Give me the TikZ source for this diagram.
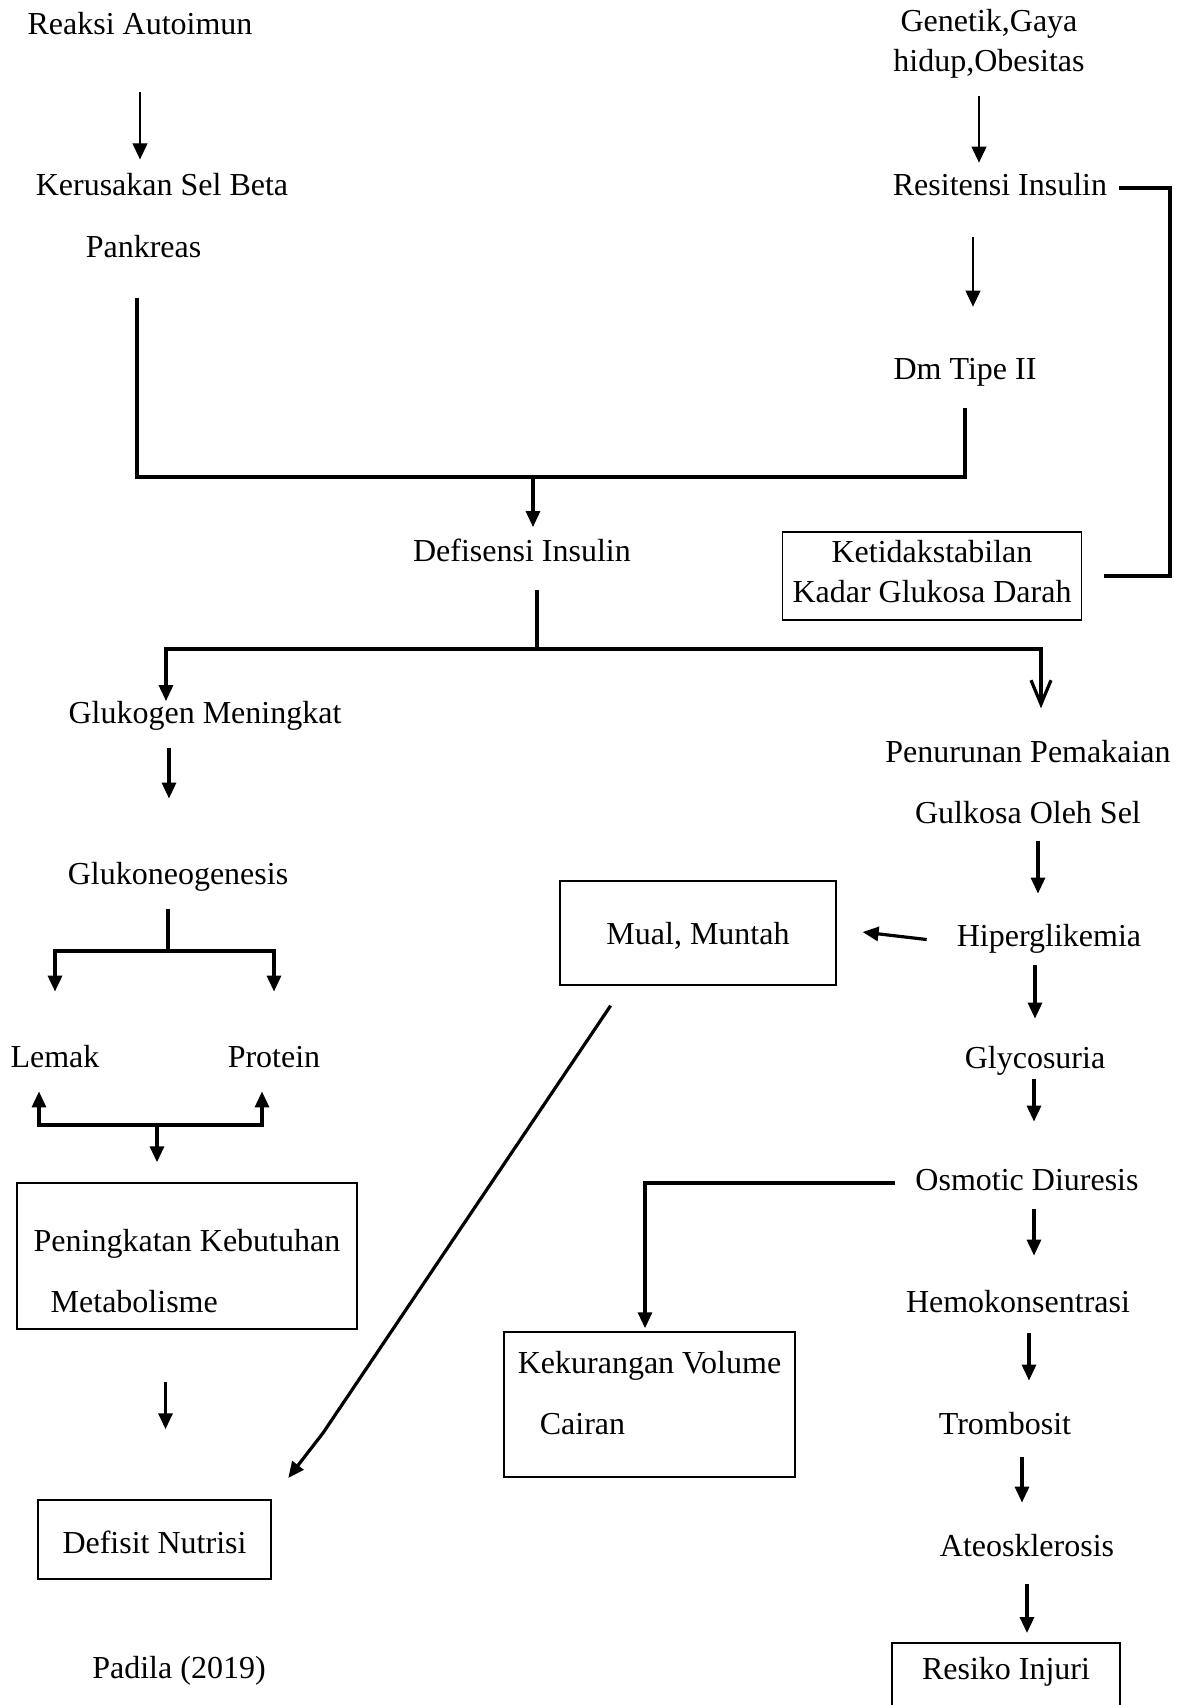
\documentclass[tikz,border=0pt]{standalone}
\usepackage{fontspec}
\setmainfont{Liberation Serif}
\usetikzlibrary{arrows.meta}

\begin{document}
\begin{tikzpicture}[x=0.5pt,y=-0.5pt,font=\fontsize{16}{20}\selectfont,node distance=61pt,
    txt/.style={inner sep=0pt,text height=11pt,text depth=3.5pt},
    box/.style={draw,line width=0.75pt,inner sep=0pt},
    thinarr/.style={-{Triangle[length=8pt,width=7.5pt]},line width=0.55pt},
    thickline/.style={line width=1.6pt},
    thickarr/.style={thickline,-{Triangle[length=8pt,width=7pt]}},
    openarr/.style={thickline,-{Straight Barb[length=12pt,width=10pt]}}]
    \useasboundingbox (0,0) rectangle (1196,1705);

    \node[txt] (reaksi) at (140,27) {Reaksi Autoimun};
    \node[inner sep=0pt,align=left] (kerusakan) at (162,216) {Kerusakan Sel Beta\\[11pt]\hspace*{25pt}Pankreas};
    \node[inner sep=0pt,align=center] (genetik) at (989,44) {Genetik,Gaya\\hidup,Obesitas};
    \node[txt] (resistensi) at (1000,188) {Resitensi Insulin};
    \node[txt] (dmtipe) at (965,372) {Dm Tipe II};
    \node[box,align=center,minimum width=149.5pt,minimum height=44pt] (ketidak) at (932,576) {Ketidakstabilan\\Kadar Glukosa Darah\rule[-5pt]{0pt}{5pt}};
    \node[txt] (defisiensi) at (522,554) {Defisensi Insulin};
    \node[txt] (glukogen) at (205,716) {Glukogen Meningkat};
    \node[txt] (glukoneo) at (178,877) {Glukoneogenesis};
    \node[txt] (lemak) at (55,1060) {Lemak};
    \node[txt] (protein) at (274,1060) {Protein};
    \node[box,align=left,minimum width=170pt,minimum height=73pt] (peningkatan) at (187,1256) {\rule{0pt}{26pt}Peningkatan Kebutuhan\\[10.5pt]\hspace*{8.5pt}Metabolisme};
    \node[box,minimum width=116.5pt,minimum height=39.5pt,text height=14pt] (defisit) at (154.5,1539.5) {Defisit Nutrisi};
    \node[txt] (padila) at (179,1671) {Padila (2019)};
    \node[box,minimum width=138pt,minimum height=52pt,text height=14pt] (mual) at (698,933) {Mual, Muntah};
    \node[inner sep=0pt,align=center] (penurunan) at (1028,782) {Penurunan Pemakaian\\[10.5pt]Gulkosa Oleh Sel};
    \node[txt] (hiper) at (1049,939) {Hiperglikemia};
    \node[txt] (glyco) [below of=hiper, xshift=-7pt] {Glycosuria};
    \node[txt] (osmotic) [below of=glyco, xshift=-4pt] {Osmotic Diuresis};
    \node[txt] (hemo) [below of=osmotic, xshift=-4.5pt] {Hemokonsentrasi};
    \node[txt] (trombosit) [below of=hemo, xshift=-6.5pt] {Trombosit};
    \node[txt] (ateo) [below of=trombosit, xshift=11pt] {Ateosklerosis};
    \node[box,anchor=north,minimum width=114pt,text height=18.5pt,text depth=40pt] (resiko) at (1006,1642) {Resiko Injuri};
    \node[box,align=left,minimum width=145.5pt,minimum height=72.5pt] (kekurangan) at (649.5,1404.5) {Kekurangan Volume\\[10.5pt]\hspace*{11pt}Cairan\rule[-12pt]{0pt}{12pt}};

    \coordinate (join) at (533,477);
    \coordinate (split) at (537,649);
    \coordinate (gsplit) at (168,951);
    \coordinate (lpjoin) at (157,1125);
    \coordinate (bend) at (323,1433);
    \coordinate (rbar) at (1170,0);
    \coordinate (kdrop) at ([xshift=-12.5pt]kerusakan.south);
    \coordinate (gx) at ([xshift=-5pt]genetik.south);
    \coordinate (dx) at ([xshift=4pt]dmtipe.north);
    \coordinate (gdrop) at ([xshift=-19.5pt]glukogen.north);
    \coordinate (pdrop) at ([xshift=6.5pt]penurunan.north);
    \coordinate (gk) at ([xshift=-4.5pt]glukoneo.north);
    \coordinate (lup) at ([xshift=-8pt]lemak.south);
    \coordinate (pup) at ([xshift=-6pt]protein.south);
    \coordinate (nd) at ([xshift=5.5pt]defisit.north);
    \coordinate (hx) at ([xshift=-5.5pt]hiper.north);
    \coordinate (ox) at ([xshift=3.5pt]osmotic.north);
    \coordinate (kx) at ([xshift=-2.25pt]kekurangan.north);
    \coordinate (hmx) at ([xshift=8pt]hemo.north);
    \coordinate (tx) at ([xshift=12pt]trombosit.north);
    \coordinate (ax) at ([xshift=-2.5pt]ateo.north);

    \draw[thinarr, shorten <=25.25pt, shorten >=7pt] (reaksi.south) -- (reaksi.south |- kerusakan.north);
    \draw[thinarr, shorten <=8.3pt, shorten >=5.25pt] (gx) -- (gx |- resistensi.north);
    \draw[thinarr, shorten <=17.25pt, shorten >=25.25pt] (dx |- resistensi.south) -- (dx);
    \draw[thickline, shorten <=19.5pt, shorten >=10.75pt] (kdrop) -- (kdrop |- join) -- (dmtipe.south |- join) -- (dmtipe.south);
    \draw[thickarr, shorten >=6pt] (join) -- (join |- defisiensi.north);
    \draw[thickline, shorten <=5.5pt, shorten >=11pt] (resistensi.east) -- (resistensi.east -| rbar) -- (ketidak.east -| rbar) -- (ketidak.east);
    \draw[thickline, shorten <=10.75pt] (defisiensi.south -| split) -- (split);
    \draw[thickarr] (split) -| (gdrop);
    \draw[openarr, shorten >=15.75pt] (split) -| (pdrop);
    \draw[thickarr, shorten <=8.75pt, shorten >=31.75pt] (gk |- glukogen.south) -- (gk);
    \draw[thickline, shorten <=8.75pt] (glukoneo.south -| gsplit) -- (gsplit);
    \draw[thickarr, shorten >=26.75pt] (gsplit) -| (lemak.north);
    \draw[thickarr, shorten >=26.75pt] (gsplit) -| (protein.north);
    \draw[thickarr, shorten >=8.25pt] (lpjoin) -| (lup);
    \draw[thickarr, shorten >=8.25pt] (lpjoin) -| (pup);
    \draw[thickarr, shorten >=10pt] (lpjoin) -- (lpjoin |- peningkatan.north);
    \draw[thickarr, shorten <=26pt, shorten >=35pt] (nd |- peningkatan.south) -- (nd);
    \draw[thickarr, shorten <=8.25pt, shorten >=15.25pt] (hx |- penurunan.south) -- (hx);
    \draw[thickarr, shorten <=15pt, shorten >=13pt] ([yshift=-2pt]hiper.west) -- ([yshift=2pt]mual.east);
    \draw[thickarr, shorten <=12pt, shorten >=13.5pt] ([xshift=-37pt]mual.south) -- (bend) -- (defisit.north east);
    \draw[thickarr, shorten <=5.75pt, shorten >=13.75pt] (glyco.north |- hiper.south) -- (glyco.north);
    \draw[thickarr, shorten <=1.75pt, shorten >=23.25pt] (ox |- glyco.south) -- (ox);
    \draw[thickarr, shorten <=10pt, shorten >=1.5pt] (osmotic.west) -| (kx);
    \draw[thickarr, shorten <=5.75pt, shorten >=17.25pt] (hmx |- osmotic.south) -- (hmx);
    \draw[thickarr, shorten <=6.75pt, shorten >=15.75pt] (tx |- hemo.south) -- (tx);
    \draw[thickarr, shorten <=7.75pt, shorten >=15.75pt] (ax |- trombosit.south) -- (ax);
    \draw[thickarr, shorten <=10.25pt, shorten >=4.5pt] (ateo.south) -- (ateo.south |- resiko.north);
\end{tikzpicture}
\end{document}
